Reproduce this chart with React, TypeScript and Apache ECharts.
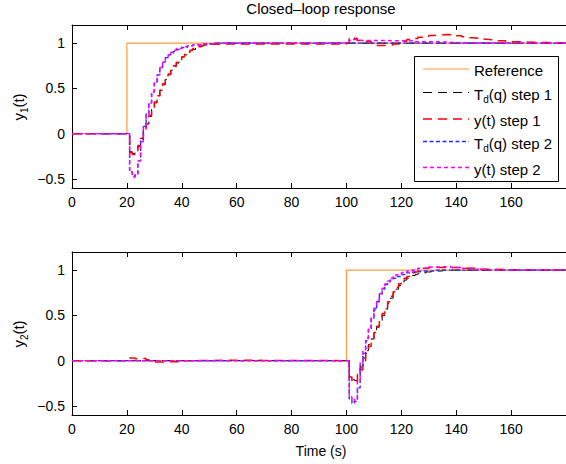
import React, { useEffect, useRef } from "react";
import * as echarts from "echarts";

type P = [number, number];

const FONT = "'Liberation Sans', Arial, Helvetica, sans-serif";

const titleText = "Closed\u2013loop response";
const xLabel = "Time (s)";
const xMin = 0;
const xMax = 180;
const xStep = 20;
const yMin = -0.6;
const yMax = 1.2;
const yTickValues = [-0.5, 0, 0.5, 1];

const legendNames = ["Reference", "T_d(q) step 1", "y(t) step 1", "T_d(q) step 2", "y(t) step 2"];

// ---------- upper plot: y1(t) ----------
const refTop: P[] = [[0, 0], [20, 1], [180, 1]];
const tdStep1Top: P[] = [
  [0, 0], [21, -0.2], [22, -0.22], [23, -0.2], [24, -0.14], [25, -0.06], [26, 0.03], [27, 0.11],
  [28, 0.19], [29, 0.27], [30, 0.34], [31, 0.41], [32, 0.48], [33, 0.54], [34, 0.6], [35, 0.65],
  [36, 0.7], [37, 0.74], [38, 0.78], [39, 0.82], [40, 0.85], [41, 0.87], [42, 0.9], [43, 0.92],
  [44, 0.93], [45, 0.95], [46, 0.96], [47, 0.97], [48, 0.98], [50, 0.99], [54, 1], [180, 1],
];
const yStep1Top: P[] = [
  [0, 0], [21, -0.21], [22, -0.23], [23, -0.2], [24, -0.13], [25, -0.05], [26, 0.03], [27, 0.11],
  [28, 0.2], [29, 0.27], [30, 0.35], [31, 0.42], [32, 0.48], [33, 0.55], [34, 0.6], [35, 0.66],
  [36, 0.7], [37, 0.75], [38, 0.79], [39, 0.82], [40, 0.85], [41, 0.88], [42, 0.9], [43, 0.92],
  [44, 0.94], [45, 0.95], [46, 0.96], [47, 0.97], [48, 0.98], [50, 0.99], [98, 0.99], [100, 1],
  [101, 1.05], [102, 1.06], [103, 1.05], [104, 1.03], [107, 1.02], [109, 1.0], [110, 0.985],
  [111, 0.975], [115, 0.98], [117, 0.99], [120, 1.0], [121, 1.02], [122, 1.04], [124, 1.05],
  [126, 1.065], [128, 1.077], [130, 1.085], [132, 1.09], [134, 1.095], [137, 1.09], [139, 1.08],
  [142, 1.07], [144, 1.06], [146, 1.055], [148, 1.045], [150, 1.04], [152, 1.033], [155, 1.025],
  [158, 1.015], [162, 1.01], [168, 1.005], [175, 1], [180, 1],
];
const tdStep2Top: P[] = [
  [0, 0], [21, -0.42], [22, -0.47], [23, -0.45], [24, -0.3], [25, -0.08], [26, 0.08], [27, 0.22],
  [28, 0.34], [29, 0.46], [30, 0.56], [31, 0.65], [32, 0.73], [33, 0.79], [34, 0.84], [35, 0.87],
  [36, 0.89], [37, 0.91], [38, 0.93], [40, 0.95], [42, 0.97], [44, 0.98], [47, 0.99], [52, 1], [180, 1],
];
const yStep2Top: P[] = [
  [0, 0], [21, -0.43], [22, -0.48], [23, -0.46], [24, -0.3], [25, -0.09], [26, 0.07], [27, 0.21],
  [28, 0.34], [29, 0.46], [30, 0.56], [31, 0.65], [32, 0.73], [33, 0.79], [34, 0.84], [35, 0.87],
  [36, 0.9], [37, 0.92], [38, 0.94], [40, 0.96], [42, 0.97], [44, 0.98], [47, 0.99], [52, 1],
  [100, 1], [101, 1.03], [102, 1.04], [103, 1.035], [104, 1.03], [106, 1.025], [124, 1.025],
  [125, 1.015], [133, 1.012], [136, 1.005], [140, 1], [180, 1],
];

// ---------- lower plot: y2(t) ----------
const refBot: P[] = [[0, 0], [100, 1], [180, 1]];
const tdStep1Bot: P[] = [
  [0, 0], [101, -0.19], [102, -0.21], [103, -0.22], [104, -0.15], [105, -0.06], [106, 0.03],
  [107, 0.11], [108, 0.18], [109, 0.24], [110, 0.3], [111, 0.37], [112, 0.43], [113, 0.5],
  [114, 0.57], [115, 0.63], [116, 0.69], [117, 0.74], [118, 0.79], [119, 0.83], [120, 0.86],
  [121, 0.89], [122, 0.91], [123, 0.93], [124, 0.94], [125, 0.95], [126, 0.96], [127, 0.97],
  [129, 0.98], [131, 0.99], [135, 1], [180, 1],
];
const yStep1Bot: P[] = [
  [0, 0], [21, 0.03], [23, 0.02], [24, 0.025], [27, 0.01], [28, 0], [30, -0.015], [34, -0.01],
  [36, -0.012], [39, 0], [44, 0.005], [60, 0.003], [70, 0], [101, -0.18], [102, -0.24],
  [103, -0.24], [104, -0.15], [105, -0.1], [106, 0.0], [107, 0.08], [108, 0.16], [109, 0.24],
  [110, 0.31], [111, 0.38], [112, 0.45], [113, 0.52], [114, 0.59], [115, 0.65], [116, 0.71],
  [117, 0.76], [118, 0.81], [119, 0.85], [120, 0.88], [121, 0.91], [122, 0.93], [123, 0.95],
  [124, 0.97], [125, 0.98], [126, 0.99], [127, 1.01], [128, 1.02], [130, 1.03], [140, 1.03],
  [143, 1.02], [147, 1.01], [152, 1.005], [160, 1], [180, 1],
];
const tdStep2Bot: P[] = [
  [0, 0], [101, -0.42], [102, -0.47], [103, -0.45], [104, -0.3], [105, -0.08], [106, 0.08],
  [107, 0.22], [108, 0.34], [109, 0.46], [110, 0.56], [111, 0.65], [112, 0.73], [113, 0.79],
  [114, 0.84], [115, 0.87], [116, 0.89], [117, 0.91], [118, 0.93], [120, 0.95], [122, 0.97],
  [124, 0.98], [127, 0.99], [132, 1], [180, 1],
];
const yStep2Bot: P[] = [
  [0, 0], [101, -0.4], [102, -0.45], [103, -0.42], [104, -0.21], [105, -0.02], [106, 0.12],
  [107, 0.25], [108, 0.37], [109, 0.48], [110, 0.58], [111, 0.67], [112, 0.74], [113, 0.8],
  [114, 0.85], [115, 0.88], [116, 0.91], [117, 0.93], [118, 0.95], [120, 0.97], [122, 0.99],
  [124, 1], [126, 1.02], [129, 1.035], [134, 1.04], [138, 1.03], [142, 1.02], [146, 1.01],
  [152, 1], [180, 1],
];

const STYLES = [
  { color: "#ff9a3c", width: 1.2, type: "solid" as any },
  { color: "#000000", width: 1, type: [9, 6] as any },
  { color: "#ff0000", width: 1.5, type: [9, 6] as any },
  { color: "#2a2aff", width: 1.4, type: [4, 2.5] as any },
  { color: "#ff00ff", width: 1.5, type: [4, 3] as any },
];

const GRID_LEFT = 72;
const GRID_W = 498;
const GRIDS = [
  { top: 25, height: 163 },
  { top: 252, height: 163 },
];

function fmtY(v: number) {
  if (v < 0) return "\u2212" + String(Math.abs(v));
  return String(v);
}

export default function App() {
  const ref = useRef<HTMLDivElement>(null);
  useEffect(() => {
    if (!ref.current) return;
    const chart = echarts.init(ref.current, undefined, { renderer: "svg" });
    const textStyle = { color: "#000", fontFamily: FONT, fontSize: 14 };

    const xAxes: any[] = [];
    const yAxes: any[] = [];
    [0, 1].forEach((g) => {
      xAxes.push({
        type: "value", gridIndex: g, position: "bottom", min: xMin, max: xMax, interval: xStep,
        axisLine: { onZero: false, lineStyle: { color: "#000", width: 1 } },
        axisTick: { inside: true, length: 5, lineStyle: { color: "#000" } },
        axisLabel: { ...textStyle, margin: 7, showMaxLabel: false },
        splitLine: { show: false },
      });
      xAxes.push({
        type: "value", gridIndex: g, position: "top", min: xMin, max: xMax, interval: xStep,
        axisLine: { onZero: false, lineStyle: { color: "#000", width: 1 } },
        axisTick: { inside: true, length: 5, lineStyle: { color: "#000" } },
        axisLabel: { show: false },
        splitLine: { show: false },
      });
      yAxes.push({
        type: "value", gridIndex: g, min: yMin, max: yMax,
        axisLine: { onZero: false, lineStyle: { color: "#000", width: 1 } },
        axisTick: { inside: true, length: 5, customValues: yTickValues, lineStyle: { color: "#000" } },
        axisLabel: { ...textStyle, margin: 7, customValues: yTickValues, formatter: (v: number) => fmtY(v) },
        splitLine: { show: false },
      });
    });

    const topData = [refTop, tdStep1Top, yStep1Top, tdStep2Top, yStep2Top];
    const botData = [refBot, tdStep1Bot, yStep1Bot, tdStep2Bot, yStep2Bot];
    const series: any[] = [];
    [topData, botData].forEach((set, g) => {
      set.forEach((d, i) => {
        series.push({
          type: "line", name: legendNames[i], xAxisIndex: g * 2, yAxisIndex: g,
          data: d, step: "end", symbol: "none", showSymbol: false, silent: true,
          lineStyle: STYLES[i], z: 2 + i,
        });
      });
    });

    const rich = {
      a: { fontFamily: FONT, fontSize: 15, color: "#000", lineHeight: 18, verticalAlign: "bottom" },
      s: { fontFamily: FONT, fontSize: 10, color: "#000", lineHeight: 12, verticalAlign: "bottom", padding: [0, 0, -3, 0] },
    };
    const legendRows = [69, 92.5, 119, 141.5, 167.5];
    const legendTexts = [
      "{a|Reference}",
      "{a|T}{s|d}{a|(q) step 1}",
      "{a|y(t) step 1}",
      "{a|T}{s|d}{a|(q) step 2}",
      "{a|y(t) step 2}",
    ];
    const graphic: any[] = [
      {
        type: "text", x: GRID_LEFT + GRID_W / 2, y: 8,
        style: { text: titleText, fill: "#000", font: `15px ${FONT}`, textAlign: "center", textVerticalAlign: "middle" },
      },
      {
        type: "text", x: GRID_LEFT + GRID_W / 2, y: 451,
        style: { text: xLabel, fill: "#000", font: `14px ${FONT}`, textAlign: "center", textVerticalAlign: "middle" },
      },
      {
        type: "text", x: 17, y: 107, rotation: Math.PI / 2,
        style: { text: "{a|y}{s|1}{a|(t)}", rich, textAlign: "center", textVerticalAlign: "middle" },
      },
      {
        type: "text", x: 17, y: 334, rotation: Math.PI / 2,
        style: { text: "{a|y}{s|2}{a|(t)}", rich, textAlign: "center", textVerticalAlign: "middle" },
      },
      {
        type: "rect", shape: { x: 414.5, y: 56.5, width: 144, height: 125 },
        style: { fill: "#fff", stroke: "#000", lineWidth: 1 }, z: 100,
      },
    ];
    legendRows.forEach((y, i) => {
      graphic.push({
        type: "line", shape: { x1: 423, y1: y, x2: 469, y2: y }, z: 101,
        style: { stroke: STYLES[i].color, lineWidth: STYLES[i].width, lineDash: Array.isArray(STYLES[i].type) ? STYLES[i].type : null },
      });
      graphic.push({
        type: "text", x: 474, y: y, z: 101,
        style: { text: legendTexts[i], rich, textAlign: "left", textVerticalAlign: "middle" },
      });
    });

    chart.setOption({
      animation: false,
      backgroundColor: "#fff",
      textStyle: { fontFamily: FONT },
      grid: GRIDS.map((g) => ({ left: GRID_LEFT, width: GRID_W, top: g.top, height: g.height, containLabel: false })),
      xAxis: xAxes,
      yAxis: yAxes,
      series,
      graphic,
    });
    return () => chart.dispose();
  }, []);
  return <div ref={ref} style={{ position: "fixed", left: 0, top: 0, width: 566, height: 464, background: "#fff" }} />;
}
